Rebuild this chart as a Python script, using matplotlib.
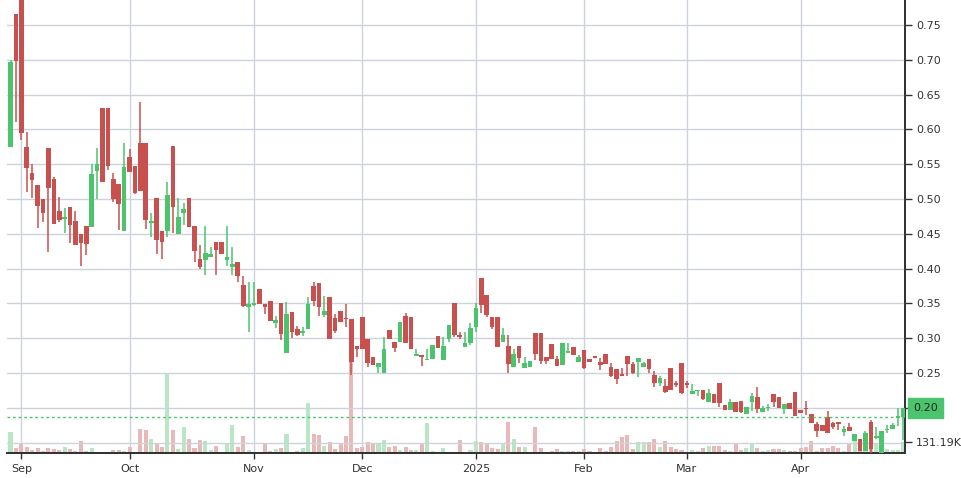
import numpy as np
import pandas as pd
import matplotlib
matplotlib.use('Agg')
import matplotlib.pyplot as plt

# trading days (US market calendar)
holidays = ['2024-09-02', '2024-11-28', '2024-12-25', '2025-01-01',
            '2025-01-09', '2025-01-20', '2025-02-17', '2025-04-18']
dates = pd.bdate_range('2024-08-28', '2025-04-29', freq='C', holidays=holidays)

opens = [.545, .575, .766, .800, .575, .537, .520, .500, .573, .529,
         .483, .471, .489, .468, .450, .461, .460, .540, .631, .631,
         .529, .522, .454, .560, .547, .581, .581, .466, .501, .454,
         .454, .576, .450, .480, .501, .461, .414, .412, .417, .438,
         .438, .412, .402, .409, .376, .345, .348, .371, .349, .353,
         .322, .350, .279, .338, .313, .308, .313, .375, .379, .333,
         .359, .329, .339, .329, .328, .289, .330, .299, .273, .259,
         .250, .312, .295, .295, .332, .330, .275, .276, .269, .270,
         .303, .269, .299, .350, .305, .287, .293, .316, .386, .362,
         .330, .330, .295, .289, .259, .289, .257, .259, .307, .307,
         .273, .292, .270, .261, .279, .287, .266, .283, .270, .274,
         .266, .277, .259, .256, .249, .274, .263, .266, .259, .270,
         .247, .236, .231, .257, .236, .264, .236, .220, .224, .225,
         .208, .220, .236, .204, .197, .208, .210, .191, .208, .215,
         .194, .200, .220, .215, .198, .207, .223, .197, .200, .191,
         .177, .175, .187, .178, .180, .165, .172, .152, .155, .138,
         .180, .157, .135, .168, .170, .186, .187]
highs = [.585, .700, .766, .800, .596, .551, .520, .500, .573, .532,
         .503, .487, .489, .483, .450, .461, .551, .573, .631, .631,
         .537, .522, .581, .572, .547, .639, .581, .480, .501, .454,
         .524, .576, .501, .494, .501, .461, .434, .461, .431, .438,
         .438, .461, .431, .409, .389, .381, .381, .371, .349, .353,
         .332, .350, .352, .338, .318, .316, .359, .381, .379, .361,
         .359, .335, .339, .349, .328, .289, .330, .299, .273, .264,
         .302, .312, .295, .323, .336, .330, .284, .276, .284, .290,
         .303, .302, .319, .350, .309, .309, .322, .350, .386, .362,
         .330, .330, .315, .305, .284, .289, .273, .267, .307, .307,
         .273, .292, .274, .293, .293, .287, .276, .283, .270, .274,
         .271, .277, .264, .256, .257, .274, .266, .271, .266, .270,
         .253, .245, .241, .257, .238, .264, .239, .234, .225, .225,
         .227, .220, .236, .204, .213, .208, .210, .201, .221, .230,
         .202, .205, .220, .215, .205, .207, .223, .197, .210, .191,
         .180, .175, .196, .180, .180, .174, .178, .162, .155, .167,
         .182, .172, .167, .175, .178, .199, .200]
lows = [.535, .575, .611, .585, .510, .501, .458, .467, .424, .464,
        .467, .451, .437, .434, .404, .420, .460, .500, .524, .542,
        .496, .455, .454, .539, .507, .511, .457, .445, .421, .414,
        .445, .451, .450, .463, .460, .409, .399, .391, .417, .391,
        .421, .404, .391, .381, .345, .309, .346, .349, .335, .325,
        .315, .297, .279, .300, .303, .303, .313, .346, .332, .330,
        .299, .308, .323, .316, .247, .273, .284, .259, .261, .250,
        .250, .299, .280, .295, .293, .284, .274, .260, .269, .270,
        .286, .269, .295, .301, .299, .287, .290, .309, .336, .330,
        .313, .287, .295, .250, .259, .265, .257, .259, .269, .263,
        .263, .270, .260, .261, .279, .276, .266, .255, .266, .271,
        .254, .263, .244, .234, .246, .246, .249, .244, .259, .250,
        .230, .232, .221, .226, .230, .220, .229, .220, .217, .211,
        .208, .207, .201, .197, .197, .194, .193, .191, .196, .193,
        .194, .195, .201, .200, .191, .198, .188, .193, .190, .178,
        .158, .167, .164, .170, .168, .160, .167, .152, .138, .138,
        .135, .155, .130, .164, .170, .174, .153]
closes = [.575, .697, .698, .595, .545, .527, .490, .480, .516, .464,
          .470, .474, .463, .434, .437, .435, .536, .551, .524, .547,
          .500, .493, .546, .539, .509, .511, .470, .469, .441, .438,
          .506, .489, .474, .486, .460, .425, .402, .422, .421, .427,
          .421, .417, .407, .389, .346, .349, .350, .349, .345, .325,
          .326, .306, .335, .309, .305, .310, .349, .353, .345, .339,
          .299, .310, .323, .328, .266, .284, .284, .264, .261, .264,
          .284, .299, .286, .323, .293, .284, .277, .273, .270, .290,
          .286, .289, .319, .305, .302, .293, .315, .343, .348, .333,
          .316, .287, .305, .263, .277, .272, .264, .267, .277, .267,
          .267, .270, .260, .293, .281, .276, .273, .257, .266, .271,
          .262, .263, .246, .241, .246, .263, .250, .271, .264, .256,
          .236, .243, .223, .226, .233, .221, .233, .224, .225, .213,
          .221, .207, .207, .197, .208, .194, .194, .201, .217, .198,
          .200, .201, .208, .200, .205, .198, .188, .193, .198, .178,
          .167, .167, .164, .172, .177, .170, .167, .162, .138, .164,
          .141, .159, .167, .170, .175, .187, .200]
# volume in thousands
volumes = [371, 240, 61, 101, 73, 31, 58, 20, 61, 50,
           38, 73, 50, 27, 143, 27, 61, 15, 6, 12,
           31, 31, 20, 73, 6, 282, 270, 166, 119, 73,
           928, 270, 50, 305, 166, 61, 154, 143, 38, 85,
           6, 119, 328, 73, 201, 38, 3, 15, 101, 27,
           50, 61, 224, 15, 27, 61, 583, 224, 212, 85,
           131, 50, 108, 201, 1079, 55, 73, 131, 108, 108,
           154, 73, 85, 38, 73, 38, 38, 101, 345, 20,
           3, 61, 3, 15, 154, 15, 38, 143, 131, 108,
           61, 50, 108, 363, 166, 73, 73, 15, 305, 61,
           6, 27, 50, 27, 27, 20, 27, 50, 27, 6,
           61, 27, 73, 143, 189, 212, 50, 131, 131, 131,
           166, 73, 143, 73, 50, 38, 12, 38, 27, 58,
           81, 81, 81, 35, 23, 116, 35, 58, 104, 58,
           29, 35, 52, 52, 35, 23, 23, 58, 70, 139,
           23, 58, 58, 81, 58, 23, 104, 186, 162, 186,
           209, 104, 186, 46, 35, 35, 131.19]

up_col = '#4cc46e'
down_col = '#c8504f'
grid_col = '#cdd3dd'
text_col = '#333333'

o = np.array(opens); h = np.array(highs); l = np.array(lows); c = np.array(closes)
x = np.arange(len(dates))
up = c >= o
colors = np.where(up, up_col, down_col)
vol_colors = np.where(up, '#b9e7c6', '#e9b9b9')

plt.rcParams['font.family'] = ['DejaVu Sans']

fig = plt.figure(figsize=(9.61, 4.78), dpi=100)
ax_vol = fig.add_axes([7/961, 25/478, 898/961, 453/478])
ax = ax_vol.twinx()

# volume
ax_vol.bar(x, volumes, width=0.75, color=vol_colors, zorder=2)
ax_vol.set_ylim(0, 5255)
ax_vol.set_xlim(0.35, 166.3)

# month ticks
month_idx = []
month_lab = []
for i in range(1, len(dates)):
    if dates[i].month != dates[i-1].month:
        month_idx.append(i)
        month_lab.append(str(dates[i].year) if dates[i].month == 1 else dates[i].strftime('%b'))
ax_vol.set_xticks(month_idx)
ax_vol.set_xticklabels(month_lab)
ax_vol.grid(axis='x', color=grid_col, lw=1, zorder=0)
ax_vol.set_axisbelow(True)
ax_vol.yaxis.tick_right()
ax_vol.set_yticks([volumes[-1]])
ax_vol.set_yticklabels(['%.2fK' % volumes[-1]])
ax_vol.tick_params(axis='y', length=5, width=1, color=text_col, labelsize=8, labelcolor=text_col, pad=3)
ax_vol.tick_params(axis='x', length=4, width=1, color=text_col, labelsize=8, labelcolor=text_col, pad=4)

# candles
body_bottom = np.minimum(o, c)
body_h = np.maximum(np.abs(c - o), 0.0016)
ax.vlines(x, l, h, colors=colors, lw=1.1, zorder=3)
ax.bar(x, body_h, bottom=body_bottom, width=0.85, color=colors, zorder=4)

ax.set_ylim(0.135, 0.786)
ticks = np.arange(0.20, 0.751, 0.05)
ax.set_yticks(ticks)
# the 0.20 level is shown by the last-price box instead
ax.set_yticklabels(['' if abs(t - closes[-1]) < 0.01 else '%.2f' % t for t in ticks])
ax.grid(axis='y', color=grid_col, lw=1, zorder=0)
ax.axhline(0.15, color=grid_col, lw=1, zorder=0)
ax.tick_params(axis='y', length=5, width=1, color=text_col, labelsize=8, labelcolor=text_col, pad=3)

# price line and last price label
ax.axhline(closes[-2], color=up_col, lw=1, ls=(0, (2, 2)), zorder=5)
ax.annotate('%.2f' % closes[-1], xy=(1, closes[-1]), xycoords=('axes fraction', 'data'),
            xytext=(6, 0), textcoords='offset points', va='center', ha='left',
            fontsize=8, color='#222222', zorder=10, annotation_clip=False,
            bbox=dict(boxstyle='square,pad=0.45', fc=up_col, ec=up_col))

for a in (ax, ax_vol):
    a.spines['top'].set_visible(False)
    a.spines['left'].set_visible(False)
    a.spines['right'].set_color(text_col)
    a.spines['right'].set_linewidth(1.3)
    a.spines['bottom'].set_color(text_col)
    a.spines['bottom'].set_linewidth(1.3)

fig.savefig('out.png', dpi=100)
